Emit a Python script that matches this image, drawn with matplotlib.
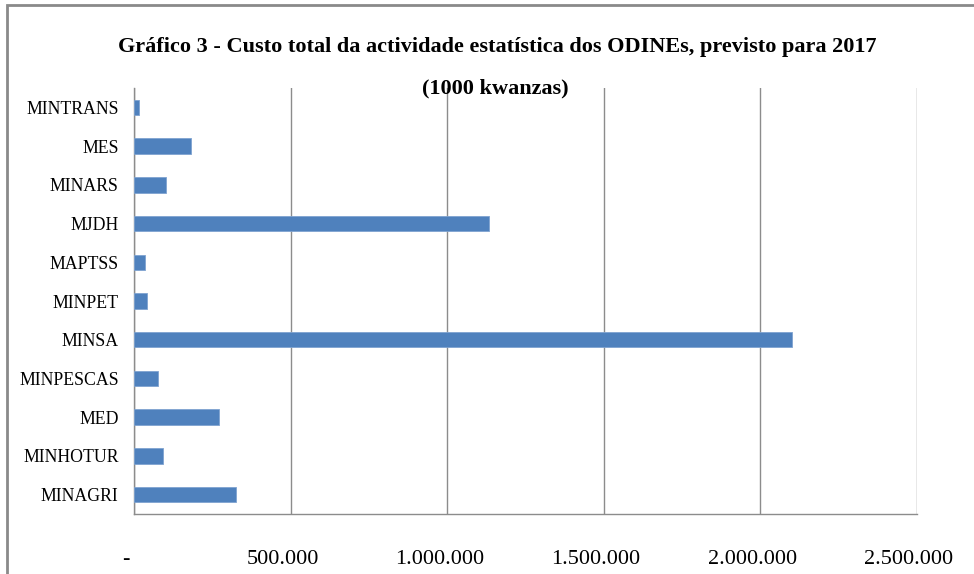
import matplotlib.pyplot as plt
import matplotlib.transforms as mtransforms
from matplotlib.patches import Rectangle

# ministries, bottom to top as drawn
ministerios = ["MINAGRI", "MINHOTUR", "MED", "MINPESCAS", "MINSA", "MINPET",
               "MAPTSS", "MJDH", "MINARS", "MES", "MINTRANS"]
custo = [325000, 93000, 270000, 76000, 2100000, 43000,
         36000, 1133000, 101000, 182000, 17000]

xticks = [0, 500000, 1000000, 1500000, 2000000, 2500000]
xtick_labels = ["-", "500.000", "1.000.000", "1.500.000", "2.000.000", "2.500.000"]

W, H = 974, 574
fig = plt.figure(figsize=(W / 100, H / 100), dpi=100)
plt.rcParams['font.family'] = ['Liberation Serif', 'DejaVu Serif']

ax = fig.add_axes([134 / W, 1 - 514 / H, (917 - 134) / W, (514 - 88) / H])
ax.barh(range(len(ministerios)), custo, height=0.4,
        color='#4F81BD', edgecolor='#7FA3D0', linewidth=0.6, zorder=3)

ax.set_xlim(0, 2500000)
ax.set_ylim(-0.5, len(ministerios) - 0.5)
ax.set_yticks(range(len(ministerios)))
ax.set_yticklabels(ministerios, fontsize=12.8)
ax.set_xticks(xticks)
ax.set_xticklabels(xtick_labels, fontsize=16)
ax.tick_params(axis='y', length=0, pad=11)
ax.tick_params(axis='x', length=0, pad=26)

# labels sit a bit left of the gridlines
shift = mtransforms.ScaledTranslation(-8 / 100, 0, fig.dpi_scale_trans)
for lbl in ax.get_xticklabels():
    lbl.set_transform(lbl.get_transform() + shift)

ax.grid(axis='x', color='#8C8C8C', linewidth=1, zorder=0)
for s in ['top', 'right']:
    ax.spines[s].set_visible(False)
for s in ['left', 'bottom']:
    ax.spines[s].set_color('#8C8C8C')
    ax.spines[s].set_linewidth(1)

fig.text(497 / W, 1 - 47 / H,
         "Gráfico 3 - Custo total da actividade estatística dos ODINEs, previsto para 2017",
         ha='center', va='center', fontsize=16, fontweight='bold')
fig.text(495 / W, 1 - 88 / H, "(1000 kwanzas)",
         ha='center', va='center', fontsize=16, fontweight='bold')

# outer chart frame, runs off the right and bottom edges
fig.patches.append(Rectangle((7 / W, -0.1), 1.2, 1 - 5 / H + 0.1,
                             transform=fig.transFigure, fill=False,
                             edgecolor='#8A8A8A', linewidth=2))

fig.savefig("out.png", dpi=100)
